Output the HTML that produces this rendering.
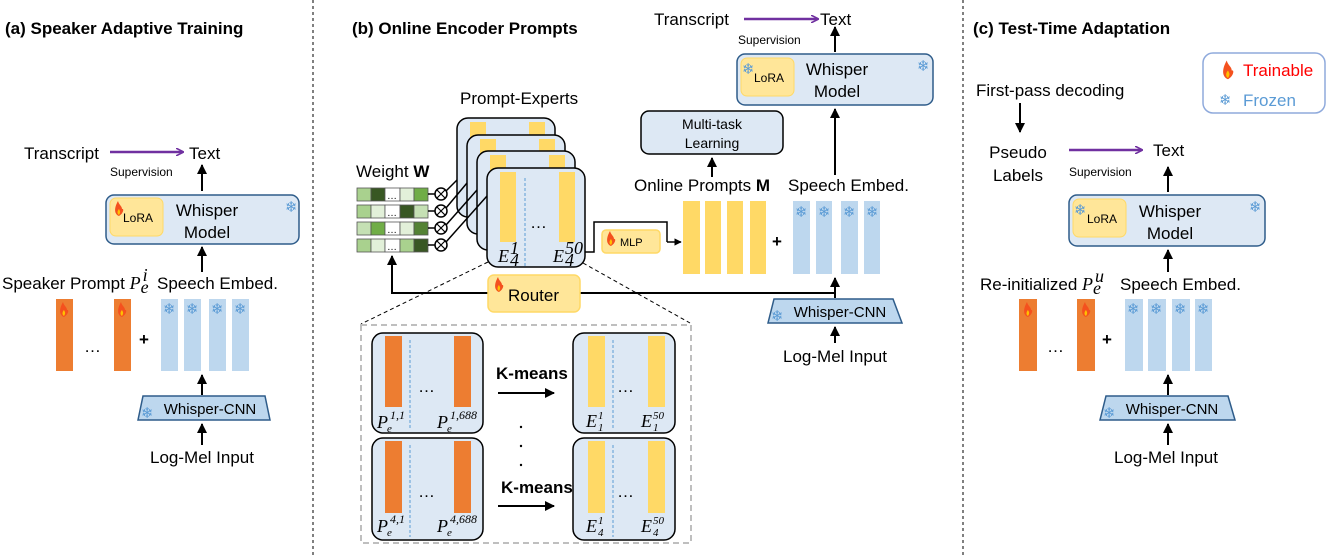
<!DOCTYPE html>
<html><head><meta charset="utf-8"><style>
html,body{margin:0;padding:0;background:#fff;}
svg{display:block;font-family:"Liberation Sans",sans-serif;}
.t{font-size:17px;fill:#000;}
.b{font-weight:bold;}
.s{font-size:12px;}
.m{font-family:"Liberation Serif",serif;font-style:italic;font-size:18px;}
.sn{font-family:"DejaVu Sans",sans-serif;fill:#5b9bd5;font-size:15px;}
</style></head><body>
<svg width="1328" height="557" viewBox="0 0 1328 557" xmlns="http://www.w3.org/2000/svg">
<defs>
<marker id="ab" viewBox="0 0 10 10" refX="9" refY="5" markerWidth="5" markerHeight="5" orient="auto"><path d="M0,0L10,5L0,10z" fill="#000"/></marker>
<marker id="ap" viewBox="0 0 10 10" refX="9" refY="5" markerWidth="8" markerHeight="8" orient="auto" markerUnits="userSpaceOnUse"><path d="M0,0L10,5L0,10" fill="none" stroke="#7030a0" stroke-width="2"/></marker>
<g id="fl"><path d="M0,9 C-5,7 -5,1 -1,-6 C0,-2 3,-1 3,2 C5,1 5,6 0,9Z" fill="#f4511e"/><path d="M0,8 C-2,7 -2,4 0,2 C1,4 2,5 0,8Z" fill="#ffc000"/></g>
</defs>

<line x1="313" y1="0" x2="313" y2="557" stroke="#000" stroke-dasharray="3,3"/>
<line x1="963" y1="0" x2="963" y2="557" stroke="#000" stroke-dasharray="3,3"/>

<!-- ===== (a) ===== -->
<text x="5" y="34" class="t b" font-size="18">(a) Speaker Adaptive Training</text>
<text x="24" y="159" class="t">Transcript</text>
<line x1="110" y1="152" x2="183" y2="152" stroke="#7030a0" stroke-width="2.5" marker-end="url(#ap)"/>
<text x="189" y="159" class="t">Text</text>
<text x="110" y="176" class="s">Supervision</text>
<line x1="202" y1="191" x2="202" y2="165" stroke="#000" stroke-width="2" marker-end="url(#ab)"/>
<rect x="106" y="195" width="193" height="49" rx="8" fill="#dde8f4" stroke="#2e5c8a" stroke-width="1.5"/>
<rect x="110" y="198" width="53" height="38" rx="6" fill="#ffe699" stroke="#ffd966"/>
<use href="#fl" x="119" y="207"/>
<text x="123" y="222" font-size="12">LoRA</text>
<text x="207" y="216" class="t" text-anchor="middle">Whisper</text>
<text x="207" y="238" class="t" text-anchor="middle">Model</text>
<text x="285" y="212" class="sn">❄</text>
<line x1="202" y1="272" x2="202" y2="247" stroke="#000" stroke-width="2" marker-end="url(#ab)"/>
<text x="2" y="289" class="t">Speaker Prompt <tspan class="m">P</tspan><tspan class="m" font-size="11" dy="4">e</tspan><tspan class="m" font-size="11" dx="-6" dy="-12">i</tspan></text>
<text x="157" y="289" class="t">Speech Embed.</text>
<rect x="56" y="299" width="17" height="72" fill="#ed7d31"/>
<rect x="114" y="299" width="17" height="72" fill="#ed7d31"/>
<use href="#fl" x="64" y="308"/><use href="#fl" x="122" y="308"/>
<text x="84" y="352" class="t">…</text>
<text x="139" y="345" class="t b" font-size="20">+</text>
<g fill="#bdd7ee"><rect x="161" y="299" width="17" height="72"/><rect x="184" y="299" width="17" height="72"/><rect x="209" y="299" width="17" height="72"/><rect x="232" y="299" width="17" height="72"/></g>
<g class="sn"><text x="163" y="314">❄</text><text x="186" y="314">❄</text><text x="211" y="314">❄</text><text x="234" y="314">❄</text></g>
<line x1="202" y1="395" x2="202" y2="375" stroke="#000" stroke-width="2" marker-end="url(#ab)"/>
<polygon points="143,396 265,396 270,420 138,420" fill="#bdd7ee" stroke="#2e5c8a" stroke-width="1.5"/>
<text x="141" y="418" class="sn">❄</text>
<text x="210" y="414" font-size="15" text-anchor="middle">Whisper-CNN</text>
<line x1="202" y1="445" x2="202" y2="424" stroke="#000" stroke-width="2" marker-end="url(#ab)"/>
<text x="202" y="463" class="t" text-anchor="middle">Log-Mel Input</text>

<!-- ===== (b) ===== -->
<text x="352" y="34" class="t b" font-size="18">(b) Online Encoder Prompts</text>
<text x="460" y="104" class="t">Prompt-Experts</text>
<text x="356" y="177" class="t">Weight <tspan class="b">W</tspan></text>
<g stroke="#555" stroke-width="0.8">
<rect x="357" y="188" width="14" height="13" fill="#a9d18e"/><rect x="371" y="188" width="14" height="13" fill="#385723"/><rect x="385" y="188" width="15" height="13" fill="#fff"/><rect x="400" y="188" width="14" height="13" fill="#e2f0d9"/><rect x="414" y="188" width="14" height="13" fill="#70ad47"/>
<rect x="357" y="205" width="14" height="13" fill="#a9d18e"/><rect x="371" y="205" width="14" height="13" fill="#e2f0d9"/><rect x="385" y="205" width="15" height="13" fill="#fff"/><rect x="400" y="205" width="14" height="13" fill="#385723"/><rect x="414" y="205" width="14" height="13" fill="#c5e0b4"/>
<rect x="357" y="222" width="14" height="13" fill="#c5e0b4"/><rect x="371" y="222" width="14" height="13" fill="#70ad47"/><rect x="385" y="222" width="15" height="13" fill="#fff"/><rect x="400" y="222" width="14" height="13" fill="#e2f0d9"/><rect x="414" y="222" width="14" height="13" fill="#548235"/>
<rect x="357" y="239" width="14" height="13" fill="#a9d18e"/><rect x="371" y="239" width="14" height="13" fill="#e2f0d9"/><rect x="385" y="239" width="15" height="13" fill="#fff"/><rect x="400" y="239" width="14" height="13" fill="#a9d18e"/><rect x="414" y="239" width="14" height="13" fill="#385723"/>
</g>
<g font-size="10"><text x="387" y="199">…</text><text x="387" y="216">…</text><text x="387" y="233">…</text><text x="387" y="250">…</text></g>
<rect x="457" y="118" width="98" height="99" rx="11" fill="#dde8f4" stroke="#000" stroke-width="1.5"/>
<rect x="470" y="122" width="16" height="30" fill="#ffd966"/><rect x="529" y="122" width="16" height="30" fill="#ffd966"/>
<rect x="467" y="135" width="98" height="99" rx="11" fill="#dde8f4" stroke="#000" stroke-width="1.5"/>
<rect x="480" y="139" width="16" height="30" fill="#ffd966"/><rect x="539" y="139" width="16" height="30" fill="#ffd966"/>
<rect x="477" y="151" width="98" height="99" rx="11" fill="#dde8f4" stroke="#000" stroke-width="1.5"/>
<rect x="490" y="155" width="16" height="30" fill="#ffd966"/><rect x="549" y="155" width="16" height="30" fill="#ffd966"/>
<rect x="487" y="168" width="98" height="99" rx="11" fill="#dde8f4" stroke="#000" stroke-width="1.5"/>
<rect x="500" y="172" width="16" height="70" fill="#ffd966"/><rect x="559" y="172" width="16" height="70" fill="#ffd966"/>
<line x1="525" y1="178" x2="525" y2="266" stroke="#5b9bd5" stroke-dasharray="3,2"/>
<text x="530" y="228" class="t">…</text>
<text x="498" y="262" class="m">E</text><text x="510" y="254" class="m" font-size="11">1</text><text x="510" y="266" class="m" font-size="11">4</text>
<text x="553" y="262" class="m">E</text><text x="565" y="254" class="m" font-size="11">50</text><text x="565" y="266" class="m" font-size="11">4</text>
<g stroke="#000" stroke-width="1.5" fill="#fff">
<line x1="428" y1="194" x2="435" y2="194"/><line x1="428" y1="211" x2="435" y2="211"/><line x1="428" y1="228" x2="435" y2="228"/><line x1="428" y1="245" x2="435" y2="245"/>
<line x1="446" y1="191" x2="457" y2="180"/><line x1="446" y1="208" x2="467" y2="183"/><line x1="446" y1="225" x2="477" y2="190"/><line x1="446" y1="242" x2="487" y2="196"/>
<circle cx="441" cy="194" r="6"/><circle cx="441" cy="211" r="6"/><circle cx="441" cy="228" r="6"/><circle cx="441" cy="245" r="6"/>
<path d="M437,190l8,8M445,190l-8,8M437,207l8,8M445,207l-8,8M437,224l8,8M445,224l-8,8M437,241l8,8M445,241l-8,8" stroke-width="1.2"/>
</g>
<polyline points="585,252 594,252 594,222 667,222 667,242" fill="none" stroke="#000" stroke-width="1.5"/>
<line x1="667" y1="242" x2="681" y2="242" stroke="#000" stroke-width="1.5" marker-end="url(#ab)"/>
<rect x="602" y="230" width="58" height="23" rx="4" fill="#ffe699" stroke="#ffd966" stroke-width="1.5"/>
<use href="#fl" x="611" y="237"/>
<text x="620" y="246" font-size="11">MLP</text>
<g fill="#ffd966"><rect x="683" y="201" width="17" height="73"/><rect x="705" y="201" width="16" height="73"/><rect x="727" y="201" width="16" height="73"/><rect x="750" y="201" width="16" height="73"/></g>
<text x="772" y="247" class="t b" font-size="20">+</text>
<g fill="#bdd7ee"><rect x="793" y="201" width="17" height="73"/><rect x="816" y="201" width="16" height="73"/><rect x="841" y="201" width="17" height="73"/><rect x="864" y="201" width="16" height="73"/></g>
<g class="sn"><text x="795" y="217">❄</text><text x="818" y="217">❄</text><text x="843" y="217">❄</text><text x="866" y="217">❄</text></g>
<text x="634" y="191" class="t">Online Prompts <tspan class="b">M</tspan></text>
<text x="788" y="191" class="t">Speech Embed.</text>
<line x1="712" y1="177" x2="712" y2="158" stroke="#000" stroke-width="2" marker-end="url(#ab)"/>
<rect x="641" y="111" width="142" height="43" rx="8" fill="#dde8f4" stroke="#000" stroke-width="1.5"/>
<text x="712" y="129" font-size="14" text-anchor="middle">Multi-task</text>
<text x="712" y="148" font-size="14" text-anchor="middle">Learning</text>
<text x="654" y="25" class="t">Transcript</text>
<line x1="744" y1="19" x2="818" y2="19" stroke="#7030a0" stroke-width="2.5" marker-end="url(#ap)"/>
<text x="820" y="25" class="t">Text</text>
<text x="738" y="44" class="s">Supervision</text>
<line x1="835" y1="52" x2="835" y2="27" stroke="#000" stroke-width="2" marker-end="url(#ab)"/>
<rect x="737" y="54" width="196" height="51" rx="8" fill="#dde8f4" stroke="#2e5c8a" stroke-width="1.5"/>
<rect x="741" y="58" width="53" height="38" rx="6" fill="#ffe699" stroke="#ffd966"/>
<text x="742" y="74" class="sn">❄</text>
<text x="754" y="82" font-size="12">LoRA</text>
<text x="837" y="75" class="t" text-anchor="middle">Whisper</text>
<text x="837" y="97" class="t" text-anchor="middle">Model</text>
<text x="917" y="71" class="sn">❄</text>
<line x1="835" y1="175" x2="835" y2="109" stroke="#000" stroke-width="2" marker-end="url(#ab)"/>
<polyline points="835,293 392,293 392,256" fill="none" stroke="#000" stroke-width="2" marker-end="url(#ab)"/>
<line x1="835" y1="298" x2="835" y2="278" stroke="#000" stroke-width="2" marker-end="url(#ab)"/>
<rect x="488" y="275" width="92" height="37" rx="6" fill="#ffe699" stroke="#ffd966" stroke-width="1.5"/>
<use href="#fl" x="499" y="283"/>
<text x="508" y="301" class="t" font-size="18">Router</text>
<polygon points="774,299 893,299 902,323 768,323" fill="#bdd7ee" stroke="#2e5c8a" stroke-width="1.5"/>
<text x="771" y="321" class="sn">❄</text>
<text x="840" y="317" font-size="15" text-anchor="middle">Whisper-CNN</text>
<line x1="835" y1="343" x2="835" y2="327" stroke="#000" stroke-width="2" marker-end="url(#ab)"/>
<text x="835" y="362" class="t" text-anchor="middle">Log-Mel Input</text>
<line x1="488" y1="262" x2="361" y2="324" stroke="#000" stroke-dasharray="4,3"/>
<line x1="583" y1="263" x2="690" y2="323" stroke="#000" stroke-dasharray="4,3"/>
<rect x="361" y="325" width="330" height="218" fill="none" stroke="#bfbfbf" stroke-width="2" stroke-dasharray="6,4"/>
<g fill="#dde8f4" stroke="#000" stroke-width="1.5">
<rect x="372" y="333" width="111" height="100" rx="11"/><rect x="372" y="438" width="111" height="102" rx="11"/>
<rect x="573" y="333" width="102" height="100" rx="11"/><rect x="573" y="438" width="102" height="102" rx="11"/>
</g>
<g fill="#ed7d31"><rect x="385" y="336" width="17" height="71"/><rect x="454" y="336" width="17" height="71"/><rect x="385" y="441" width="17" height="72"/><rect x="454" y="441" width="17" height="72"/></g>
<g fill="#ffd966"><rect x="588" y="336" width="17" height="71"/><rect x="648" y="336" width="17" height="71"/><rect x="588" y="441" width="17" height="72"/><rect x="648" y="441" width="17" height="72"/></g>
<g stroke="#5b9bd5" stroke-dasharray="3,2"><line x1="410" y1="340" x2="410" y2="430"/><line x1="410" y1="445" x2="410" y2="537"/><line x1="613" y1="340" x2="613" y2="430"/><line x1="613" y1="445" x2="613" y2="537"/></g>
<g class="t"><text x="418" y="392">…</text><text x="418" y="497">…</text><text x="617" y="392">…</text><text x="617" y="497">…</text></g>
<g class="m">
<text x="377" y="428">P</text><text x="387" y="432" font-size="11">e</text><text x="390" y="419" font-size="12">1,1</text>
<text x="437" y="428">P</text><text x="447" y="432" font-size="11">e</text><text x="450" y="419" font-size="12">1,688</text>
<text x="377" y="532">P</text><text x="387" y="536" font-size="11">e</text><text x="390" y="523" font-size="12">4,1</text>
<text x="437" y="532">P</text><text x="447" y="536" font-size="11">e</text><text x="450" y="523" font-size="12">4,688</text>
<text x="586" y="427">E</text><text x="598" y="419" font-size="11">1</text><text x="598" y="431" font-size="11">1</text>
<text x="641" y="427">E</text><text x="653" y="419" font-size="11">50</text><text x="653" y="431" font-size="11">1</text>
<text x="586" y="532">E</text><text x="598" y="524" font-size="11">1</text><text x="598" y="536" font-size="11">4</text>
<text x="641" y="532">E</text><text x="653" y="524" font-size="11">50</text><text x="653" y="536" font-size="11">4</text>
</g>
<text x="496" y="379" class="t b" font-size="16">K-means</text>
<line x1="498" y1="393" x2="554" y2="393" stroke="#000" stroke-width="2" marker-end="url(#ab)"/>
<text x="501" y="493" class="t b" font-size="16">K-means</text>
<line x1="498" y1="506" x2="554" y2="506" stroke="#000" stroke-width="2" marker-end="url(#ab)"/>
<g fill="#000"><circle cx="521" cy="427" r="1.2"/><circle cx="521" cy="446" r="1.2"/><circle cx="521" cy="465" r="1.2"/></g>

<!-- ===== (c) ===== -->
<text x="973" y="34" class="t b" font-size="18">(c) Test-Time Adaptation</text>
<rect x="1203" y="53" width="122" height="60" rx="10" fill="#fff" stroke="#8faadc" stroke-width="1.5"/>
<use href="#fl" x="1224" y="68" transform="translate(-302 -17) scale(1.25)"/>
<text x="1243" y="76" font-size="17" fill="#ff0000">Trainable</text>
<text x="1219" y="105" class="sn" font-size="13">❄</text>
<text x="1243" y="106" font-size="17" fill="#5b9bd5">Frozen</text>
<text x="976" y="96" class="t">First-pass decoding</text>
<line x1="1020" y1="103" x2="1020" y2="132" stroke="#000" stroke-width="2" marker-end="url(#ab)"/>
<text x="1018" y="158" class="t" text-anchor="middle">Pseudo</text>
<text x="1018" y="181" class="t" text-anchor="middle">Labels</text>
<line x1="1069" y1="150" x2="1142" y2="150" stroke="#7030a0" stroke-width="2.5" marker-end="url(#ap)"/>
<text x="1153" y="156" class="t">Text</text>
<text x="1069" y="176" class="s">Supervision</text>
<line x1="1168" y1="192" x2="1168" y2="167" stroke="#000" stroke-width="2" marker-end="url(#ab)"/>
<rect x="1069" y="195" width="196" height="51" rx="8" fill="#dde8f4" stroke="#2e5c8a" stroke-width="1.5"/>
<rect x="1073" y="199" width="53" height="38" rx="6" fill="#ffe699" stroke="#ffd966"/>
<text x="1074" y="215" class="sn">❄</text>
<text x="1087" y="223" font-size="12">LoRA</text>
<text x="1170" y="217" class="t" text-anchor="middle">Whisper</text>
<text x="1170" y="239" class="t" text-anchor="middle">Model</text>
<text x="1249" y="212" class="sn">❄</text>
<line x1="1168" y1="272" x2="1168" y2="250" stroke="#000" stroke-width="2" marker-end="url(#ab)"/>
<text x="980" y="290" class="t">Re-initialized <tspan class="m">P</tspan><tspan class="m" font-size="11" dy="4">e</tspan><tspan class="m" font-size="11" dx="-6" dy="-12">u</tspan></text>
<text x="1120" y="290" class="t">Speech Embed.</text>
<rect x="1019" y="299" width="18" height="72" fill="#ed7d31"/>
<rect x="1077" y="299" width="18" height="72" fill="#ed7d31"/>
<use href="#fl" x="1028" y="308"/><use href="#fl" x="1086" y="308"/>
<text x="1047" y="352" class="t">…</text>
<text x="1102" y="345" class="t b" font-size="20">+</text>
<g fill="#bdd7ee"><rect x="1125" y="299" width="18" height="72"/><rect x="1148" y="299" width="18" height="72"/><rect x="1172" y="299" width="18" height="72"/><rect x="1195" y="299" width="17" height="72"/></g>
<g class="sn"><text x="1127" y="314">❄</text><text x="1150" y="314">❄</text><text x="1174" y="314">❄</text><text x="1197" y="314">❄</text></g>
<line x1="1168" y1="395" x2="1168" y2="375" stroke="#000" stroke-width="2" marker-end="url(#ab)"/>
<polygon points="1106,396 1228,396 1235,420 1100,420" fill="#bdd7ee" stroke="#2e5c8a" stroke-width="1.5"/>
<text x="1103" y="418" class="sn">❄</text>
<text x="1172" y="414" font-size="15" text-anchor="middle">Whisper-CNN</text>
<line x1="1168" y1="445" x2="1168" y2="424" stroke="#000" stroke-width="2" marker-end="url(#ab)"/>
<text x="1166" y="463" class="t" text-anchor="middle">Log-Mel Input</text>
</svg>
</body></html>
